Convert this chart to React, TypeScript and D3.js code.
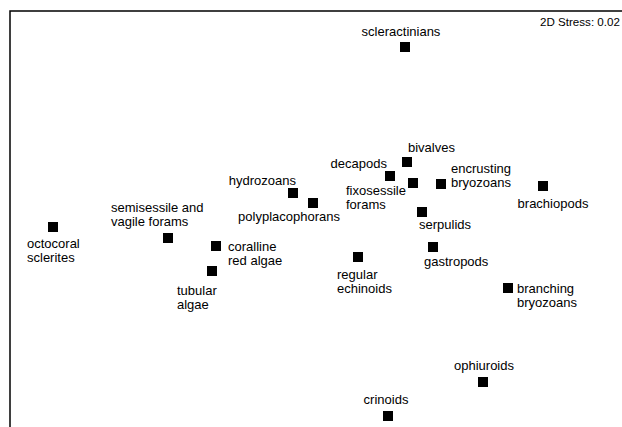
import * as React from "react";
import * as d3 from "d3";

// taxa and their 2D MDS coordinates
const taxa: string[] = [
  "scleractinians",
  "bivalves",
  "decapods",
  "fixosessile forams",
  "encrusting bryozoans",
  "brachiopods",
  "hydrozoans",
  "polyplacophorans",
  "serpulids",
  "gastropods",
  "regular echinoids",
  "branching bryozoans",
  "octocoral sclerites",
  "semisessile and vagile forams",
  "coralline red algae",
  "tubular algae",
  "ophiuroids",
  "crinoids"
];
const mdsX: number[] = [1.05, 1.07, 0.9, 1.13, 1.41, 2.43, -0.07, 0.13, 1.22, 1.33, 0.58, 2.08, -2.47, -1.32, -0.84, -0.88, 1.83, 0.88];
const mdsY: number[] = [1.83, 0.68, 0.54, 0.47, 0.46, 0.44, 0.37, 0.27, 0.18, -0.17, -0.27, -0.58, 0.03, -0.08, -0.16, -0.41, -1.52, -1.86];
const labelLines: string[][] = [
  ["scleractinians"],
  ["bivalves"],
  ["decapods"],
  ["fixosessile", "forams"],
  ["encrusting", "bryozoans"],
  ["brachiopods"],
  ["hydrozoans"],
  ["polyplacophorans"],
  ["serpulids"],
  ["gastropods"],
  ["regular", "echinoids"],
  ["branching", "bryozoans"],
  ["octocoral", "sclerites"],
  ["semisessile and", "vagile forams"],
  ["coralline", "red algae"],
  ["tubular", "algae"],
  ["ophiuroids"],
  ["crinoids"]
];
const stress = "2D Stress: 0.02";

// label placement: [dx, dy of first line centre, anchor]
const labelPos: [number, number, string][] = [
  [-4, -16, "middle"],
  [1, -15, "start"],
  [-3, -13, "end"],
  [-67, 7, "start"],
  [10, -16, "start"],
  [10, 17, "middle"],
  [3, -13, "end"],
  [-24, 13, "middle"],
  [-3, 12, "start"],
  [-9, 14, "start"],
  [-21, 17, "start"],
  [9, 0, "start"],
  [-26, 16, "start"],
  [-57, -31, "start"],
  [12, 0, "start"],
  [-35, 19, "start"],
  [1, -17, "middle"],
  [-2, -17, "middle"]
];

const W = 622;
const H = 427;
const x = d3.scaleLinear().domain([-3, 3.22]).range([0, W]);
const y = d3.scaleLinear().domain([2.3, -1.97]).range([0, H]);
const size = 10;
const lineH = 14.5;

export default function App() {
  return (
    <svg
      width={W}
      height={H}
      style={{ position: "absolute", left: 0, top: 0, background: "#fff" }}
      fontFamily="'Liberation Sans', Arial, sans-serif"
    >
      <rect x={10} y={11} width={W + 50} height={H + 50} fill="#fff" stroke="#000" strokeWidth={1.5} />
      <text x={540} y={22} dy="0.35em" fontSize={11.6}>
        {stress}
      </text>
      {taxa.map((t, i) => {
        const cx = x(mdsX[i]);
        const cy = y(mdsY[i]);
        const [dx, dy, anchor] = labelPos[i];
        return (
          <g key={t}>
            <rect x={cx - size / 2} y={cy - size / 2} width={size} height={size} fill="#000" />
            <text x={cx + dx} y={cy + dy} textAnchor={anchor} fontSize={13} fill="#000">
              {labelLines[i].map((l, j) => (
                <tspan key={j} x={cx + dx} y={cy + dy + j * lineH} dy="0.35em">
                  {l}
                </tspan>
              ))}
            </text>
          </g>
        );
      })}
    </svg>
  );
}
